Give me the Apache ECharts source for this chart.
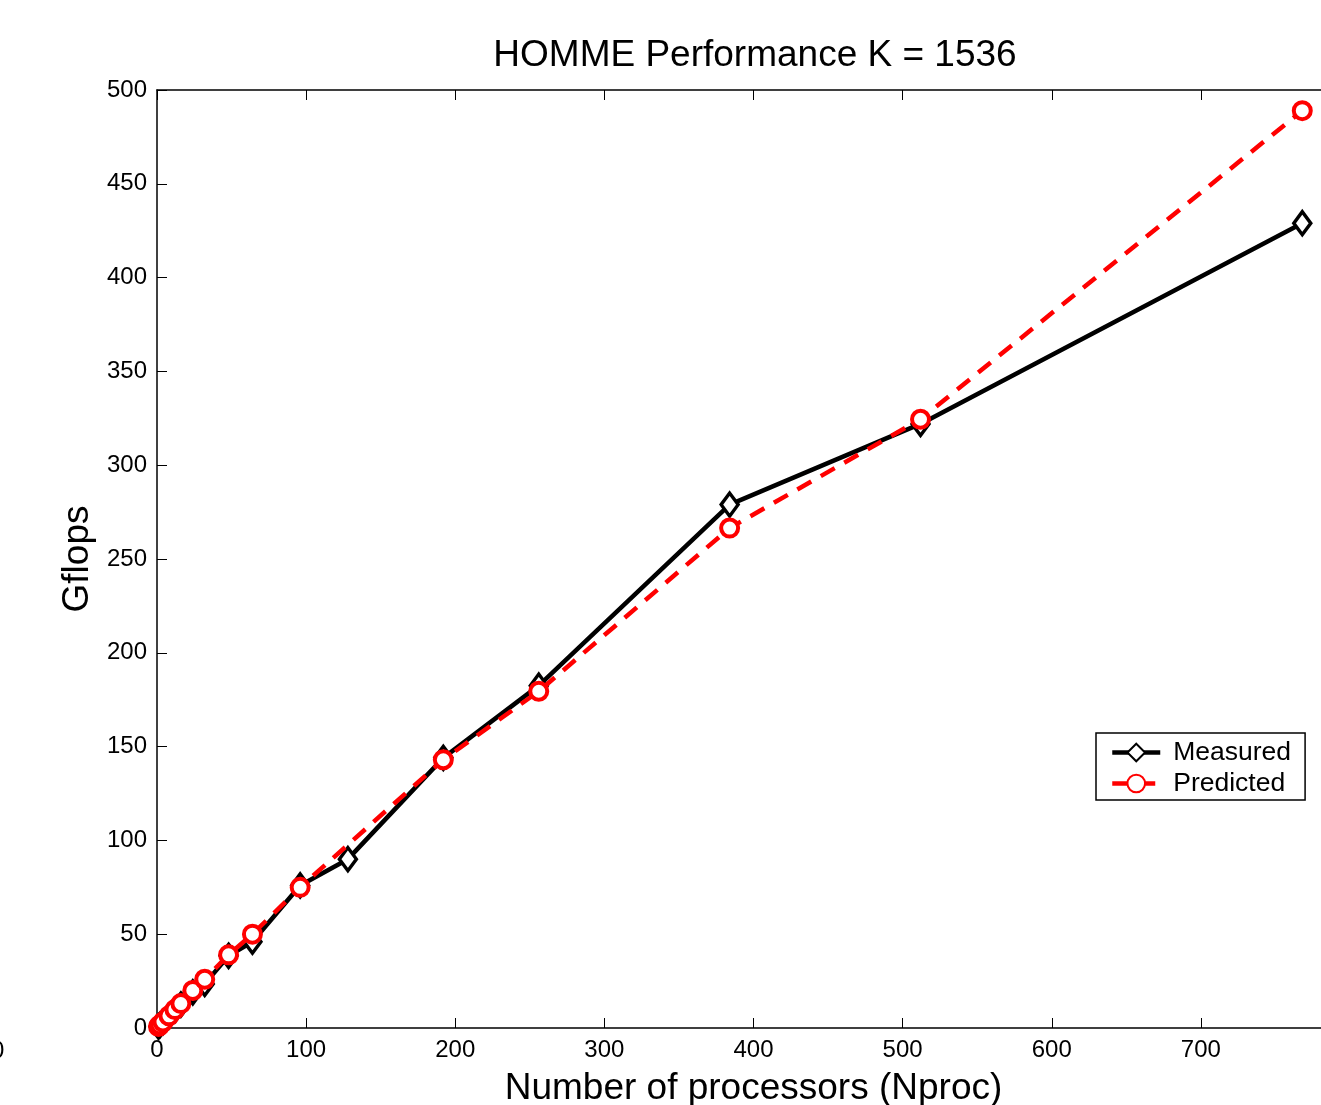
<!DOCTYPE html>
<html>
<head>
<meta charset="utf-8">
<script src="https://cdn.jsdelivr.net/npm/echarts@6/dist/echarts.min.js"></script>
<style>
  html, body { margin: 0; padding: 0; background: #fff; }
  #chart { width: 1321px; height: 1105px; }
</style>
</head>
<body>
<div id="chart"></div>
<script>
// processor counts and Gflops
const measuredProcs = [1, 2, 4, 8, 12, 16, 24, 32, 48, 64, 96, 128, 192, 256, 384, 512, 768]
const measuredGflops = [0.8, 1.6, 3.1, 6.2, 9.5, 12.5, 19, 23.5, 38.5, 46, 76, 90, 144, 182.5, 279, 322, 429]
const predictedProcs = [1, 2, 4, 8, 12, 16, 24, 32, 48, 64, 96, 192, 256, 384, 512, 768]
const predictedGflops = [0.8, 1.6, 3.2, 6.5, 9.8, 13, 20, 26, 39, 50, 75, 143, 179.5, 266.5, 324.5, 489]

const font = 'Liberation Sans'
const chart = echarts.init(document.getElementById('chart'))

const pair = (xs, ys) => xs.map((x, i) => [x, ys[i]])

const option = {
  animation: false,
  textStyle: { fontFamily: font, color: '#000' },
  title: {
    text: 'HOMME Performance K = 1536',
    left: 750, top: 32, textAlign: 'center',
    textStyle: { fontFamily: font, fontSize: 37, fontWeight: 'normal', color: '#000' }
  },
  grid: { left: 157, top: 90, width: 1193, height: 938, outerBoundsMode: 'none', containLabel: false },
  legend: {
    left: 1096, top: 733,
    orient: 'vertical',
    itemGap: 4,
    itemWidth: 48, itemHeight: 22,
    padding: [6, 14, 3, 14],
    borderColor: '#000', borderWidth: 1.5,
    backgroundColor: '#fff',
    textStyle: { fontFamily: font, fontSize: 26.5, color: '#000', padding: [0, 0, 0, 8] },
    lineStyle: { width: 4.5 },
    data: ['Measured', 'Predicted']
  },
  xAxis: [{
    type: 'value', min: 0, max: 800, interval: 100,
    name: 'Number of processors (Nproc)',
    nameLocation: 'middle', nameGap: 42,
    nameTextStyle: { fontFamily: font, fontSize: 37, color: '#000' },
    axisLine: { show: true, onZero: false, lineStyle: { color: '#000', width: 1.5 } },
    axisTick: { inside: true, length: 10, lineStyle: { color: '#000' } },
    axisLabel: { fontSize: 24, color: '#000', margin: 10 },
    splitLine: { show: false }
  }, {
    type: 'value', min: 0, max: 800, interval: 100, position: 'top',
    axisLine: { show: true, onZero: false, lineStyle: { color: '#000', width: 1.5 } },
    axisTick: { inside: true, length: 10, lineStyle: { color: '#000' } },
    axisLabel: { show: false },
    splitLine: { show: false }
  }],
  yAxis: [{
    type: 'value', min: 0, max: 500, interval: 50,
    name: 'Gflops',
    nameLocation: 'middle', nameGap: 60,
    nameTextStyle: { fontFamily: font, fontSize: 37, color: '#000' },
    axisLine: { show: true, onZero: false, lineStyle: { color: '#000', width: 1.5 } },
    axisTick: { inside: true, length: 10, lineStyle: { color: '#000' } },
    axisLabel: { fontSize: 24, color: '#000', margin: 10 },
    splitLine: { show: false }
  }],
  graphic: [{
    type: 'text', left: -9, top: 1039,
    style: { text: '0', font: '24px "Liberation Sans"', fill: '#000' }
  }],
  series: [{
    name: 'Measured',
    type: 'line',
    data: pair(measuredProcs, measuredGflops),
    symbol: 'diamond', symbolSize: [17, 23],
    lineStyle: { color: '#000', width: 4.5 },
    itemStyle: { color: '#fff', borderColor: '#000', borderWidth: 3.5 },
    z: 2
  }, {
    name: 'Predicted',
    type: 'line',
    data: pair(predictedProcs, predictedGflops),
    symbol: 'circle', symbolSize: 17,
    lineStyle: { color: '#ff0000', width: 4.5, type: [16, 11] },
    itemStyle: { color: '#fff', borderColor: '#ff0000', borderWidth: 4 },
    z: 3
  }]
}

chart.setOption(option)
</script>
</body>
</html>
